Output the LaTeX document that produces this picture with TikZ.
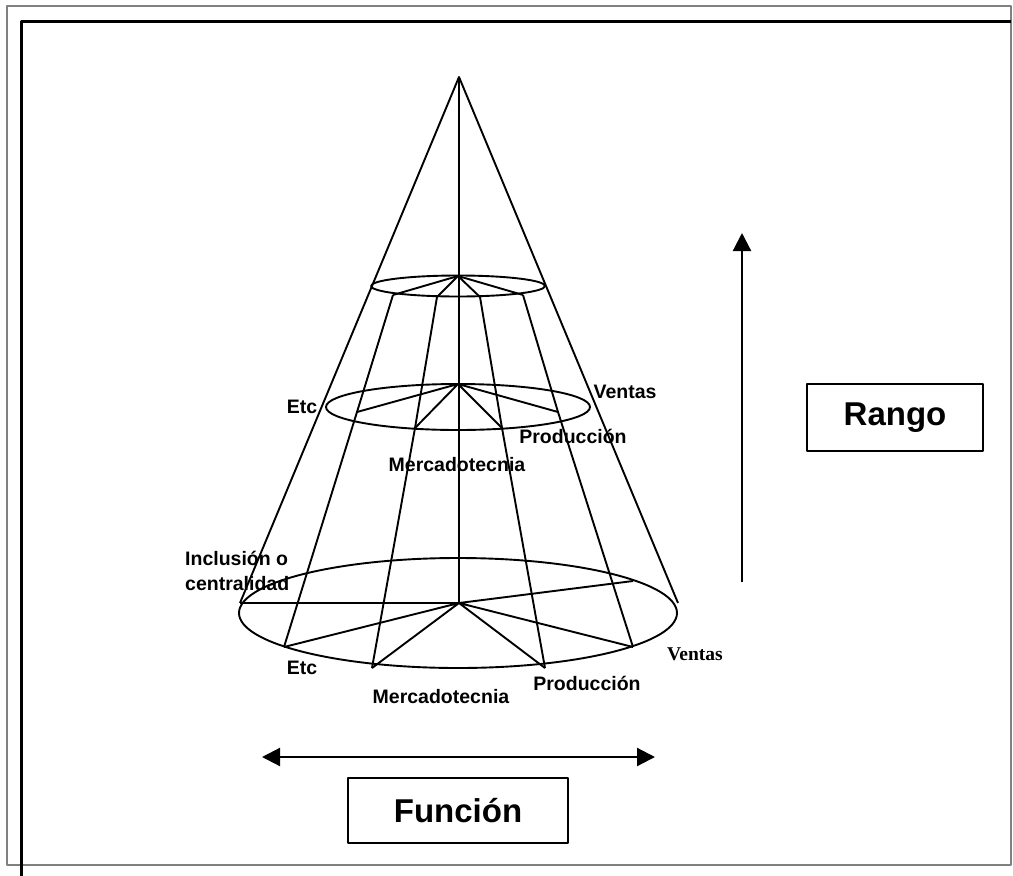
\documentclass[tikz,border=0pt]{standalone}
\usepackage{fontspec}
\setmainfont{Liberation Sans}
\newfontfamily\timesface{Liberation Serif}
\usetikzlibrary{arrows.meta}

\begin{document}
\begin{tikzpicture}[x=1pt, y=-1pt, line join=round,
  wire/.style={line width=1.9pt},
  lbl/.style={inner sep=0pt, font=\fontsize{19.5}{25}\selectfont\bfseries},
  titlebox/.style={draw, line width=2.2pt, inner sep=0pt,
    font=\fontsize{33}{40}\selectfont\bfseries},
  bigarrow/.style={line width=2.2pt, {Triangle[length=18pt,width=18pt]}-{Triangle[length=18pt,width=18pt]}},
  uparrow/.style={line width=2.2pt, -{Triangle[length=18pt,width=18pt]}}
]
\useasboundingbox (0,0) rectangle (1013,876);

% page frames
\draw[line width=2.5pt, color=black!50] (7,865) -- (7,6) -- (1011,6) -- (1011,865) -- cycle;
\draw[line width=3pt] (21,876) -- (21,21) -- (1011,21);

% cone key points
\coordinate (apex) at (459,77);
\coordinate (bl) at (240,603);
\coordinate (br) at (678,603);
\coordinate (hub) at (459,603);
\coordinate (hubm) at (458,384);
\coordinate (hubt) at (458,276);

% meridian points on the top ring
\coordinate (t1) at (393,295);
\coordinate (t2) at (437,297);
\coordinate (t3) at (480,297);
\coordinate (t4) at (523,295);
% meridian points on the middle ring
\coordinate (m1) at (357,412);
\coordinate (m2) at (415,428);
\coordinate (m3) at (502,428);
\coordinate (m4) at (558,412);
% meridian points on the base
\coordinate (b1) at (284,647);
\coordinate (b2) at (372,668);
\coordinate (b3) at (545,668);
\coordinate (b4) at (633,647);
\coordinate (b5) at (633,581);

% rings
\draw[wire] (458,286) ellipse [x radius=87pt, y radius=10.5pt];
\draw[wire] (458,407) ellipse [x radius=132pt, y radius=23pt];
\draw[wire] (458,613) ellipse [x radius=219pt, y radius=55pt];

% cone outline and axis
\draw[wire] (bl) -- (apex) -- (br);
\draw[wire] (apex) -- (hub);

% meridians
\draw[wire] (t1) -- (m1) -- (b1);
\draw[wire] (t2) -- (m2) -- (b2);
\draw[wire] (t3) -- (m3) -- (b3);
\draw[wire] (t4) -- (m4) -- (b4);

% spokes
\draw[wire] (hubt) -- (t1) (hubt) -- (t2) (hubt) -- (t3) (hubt) -- (t4);
\draw[wire] (hubm) -- (m1) (hubm) -- (m2) (hubm) -- (m3) (hubm) -- (m4);
\draw[wire] (hub) -- (bl) (hub) -- (b1) (hub) -- (b2) (hub) -- (b3) (hub) -- (b4) (hub) -- (b5);

% labels of the middle ring
\node[lbl] (etcm) at (302,407) {Etc};
\node[lbl] (venm) at (625,392) {Ventas};
\node[lbl] (prodm) at (573,436) {Producción};
\node[lbl] (mercm) at (457,465) {Mercadotecnia};

% labels of the base
\node[lbl, anchor=west, align=left] (incl) at (185,570.5) {Inclusión o\\centralidad};
\node[lbl] (etcb) at (302,668) {Etc};
\node[lbl] (mercb) at (441,697) {Mercadotecnia};
\node[lbl] (prodb) at (587,683) {Producción};
\node[inner sep=0pt, font=\fontsize{19.5}{22}\selectfont\timesface\bfseries] (venb) at (695,654) {Ventas};

% axes
\coordinate (rlo) at (742,582);
\coordinate (rhi) at (742,233);
\draw[uparrow] (rlo) -- (rhi);
\coordinate (fl) at (262,757);
\coordinate (fr) at (655,757);
\draw[bigarrow] (fl) -- (fr);

\node[titlebox, minimum width=176pt, minimum height=67pt] (rango) at (895,417.5) {Rango};
\node[titlebox, minimum width=220pt, minimum height=65pt] (funcion) at (458,810.5) {Función};
\end{tikzpicture}
\end{document}
